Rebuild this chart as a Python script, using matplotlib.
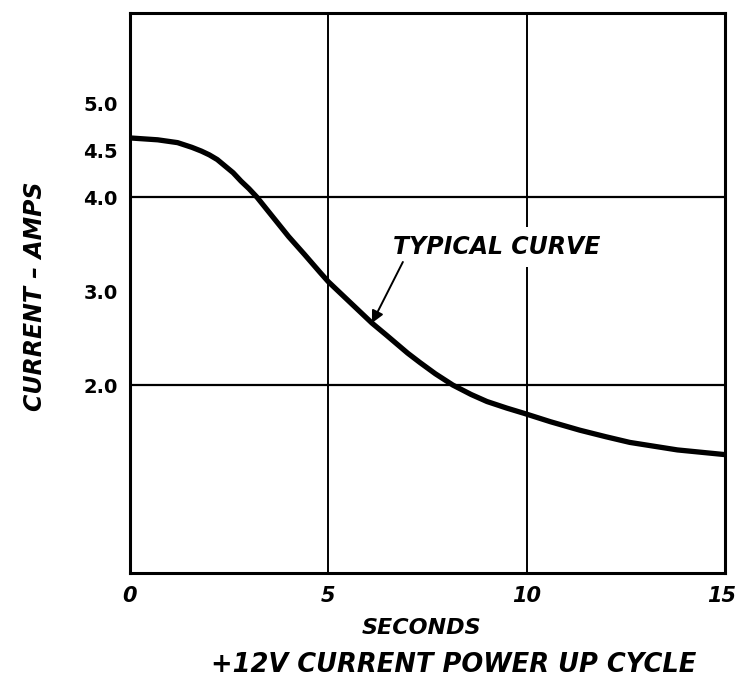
import matplotlib.pyplot as plt
from matplotlib.transforms import offset_copy

# values
seconds = [0.0, 0.7, 1.2, 1.56, 1.8, 2.0, 2.2, 2.4, 2.6, 2.8, 3.0, 3.2, 3.6,
           4.0, 4.4, 4.79, 5.0, 5.5, 6.1, 6.47, 7.0, 7.31, 7.7, 8.14, 8.6,
           9.0, 9.5, 9.93, 10.6, 11.34, 12.0, 12.6, 13.2, 13.8, 14.4, 15.0]
amps = [4.63, 4.61, 4.58, 4.53, 4.49, 4.45, 4.40, 4.33, 4.26, 4.17, 4.09, 4.0,
        3.79, 3.58, 3.39, 3.2, 3.1, 2.9, 2.66, 2.53, 2.34, 2.24, 2.12, 2.0,
        1.9, 1.825, 1.755, 1.70, 1.61, 1.52, 1.45, 1.39, 1.35, 1.31, 1.285,
        1.26]

x_ticks = [0, 5, 10, 15]
x_labels = ["0", "5", "10", "15"]
y_ticks = [2.0, 3.0, 4.0, 4.5, 5.0]
y_labels = ["2.0", "3.0", "4.0", "4.5", "5.0"]
v_grid = [5, 10]
h_grid = [2.0, 4.0]

note_text = "TYPICAL CURVE"
note_xy = (6.1, 2.66)          # arrow tip on the curve
note_tail = (6.88, 3.31)       # arrow start under the text
note_text_xy = (6.63, 3.47)

plt.rcParams["font.family"] = "DejaVu Sans"

fig = plt.figure(figsize=(7.36, 6.82), dpi=100)
ax = fig.add_axes([0.1766, 0.1598, 0.985 - 0.1766, 0.981 - 0.1598])

for v in v_grid:
    ax.axvline(v, color="black", lw=1.4, zorder=1)
for h in h_grid:
    ax.axhline(h, color="black", lw=1.6, zorder=1)

ax.plot(seconds, amps, color="black", lw=3.8, solid_capstyle="butt",
        solid_joinstyle="round", zorder=3)

ax.set_xlim(0, 15)
ax.set_ylim(0, 5.96)
for s in ax.spines.values():
    s.set_linewidth(2.2)

ax.set_xticks(x_ticks)
ax.set_xticklabels(x_labels, fontsize=15, fontweight="bold", style="italic")
ax.set_yticks(y_ticks)
ax.set_yticklabels(y_labels, fontsize=14, fontweight="bold")
ax.tick_params(length=0, pad=9)

# keep the last x label inside the figure
last = ax.get_xticklabels()[-1]
last.set_horizontalalignment("right")
last.set_transform(offset_copy(last.get_transform(), fig=fig, x=11, y=0, units="dots"))

ax.text(note_text_xy[0], note_text_xy[1], note_text, fontsize=17, fontweight="bold",
        style="italic", va="center", ha="left",
        bbox=dict(facecolor="white", edgecolor="none", pad=6), zorder=4)
ax.annotate("", xy=note_xy, xytext=note_tail,
            arrowprops=dict(arrowstyle="-|>", color="black", lw=1.4,
                            mutation_scale=18, shrinkA=0, shrinkB=0),
            zorder=4)

fig.text(0.048, 0.565, "CURRENT \u2013 AMPS", rotation=90, ha="center", va="center",
         fontsize=17, fontweight="bold", style="italic")
fig.text(0.572, 0.079, "SECONDS", ha="center", va="center",
         fontsize=16, fontweight="bold", style="italic")
fig.text(0.617, 0.025, "+12V CURRENT POWER UP CYCLE", ha="center", va="center",
         fontsize=18.5, fontweight="bold", style="italic")

fig.savefig("out.png", dpi=100)
